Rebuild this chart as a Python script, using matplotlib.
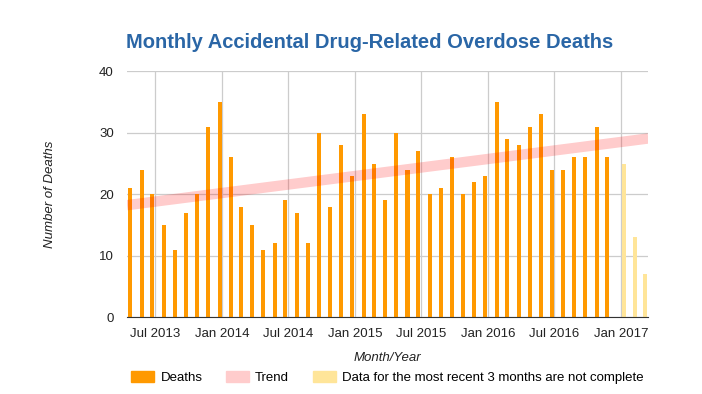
import datetime as dt
import matplotlib
matplotlib.use('Agg')
import matplotlib.pyplot as plt
import matplotlib.dates as mdates
from matplotlib.patches import Patch
import numpy as np

plt.rcParams['font.family'] = ['Liberation Sans', 'DejaVu Sans']

# monthly deaths, May 2013 .. Dec 2016
start_year, start_month = 2013, 5
deaths = [21, 24, 20, 15, 11, 17, 20, 31,
          35, 26, 18, 15, 11, 12, 19, 17, 12, 30, 18, 28,
          23, 33, 25, 19, 30, 24, 27, 20, 21, 26, 20, 22,
          23, 35, 29, 28, 31, 33, 24, 24, 26, 26, 31, 26]
# incomplete months, Jan 2017 .. Mar 2017
incomplete = [25, 13, 7]

tick_labels = ['Jul 2013', 'Jan 2014', 'Jul 2014', 'Jan 2015',
               'Jul 2015', 'Jan 2016', 'Jul 2016', 'Jan 2017']
tick_dates = [dt.datetime.strptime(t, '%b %Y') for t in tick_labels]


def month_dates(y, m, n):
    out = []
    for _ in range(n):
        out.append(dt.datetime(y, m, 1))
        m += 1
        if m > 12:
            m, y = 1, y + 1
    return out


d_dates = month_dates(start_year, start_month, len(deaths))
i_dates = month_dates(2017, 1, len(incomplete))

fig = plt.figure(figsize=(7.02, 3.94), dpi=100)
ax = fig.add_axes([0.1809, 0.1947, 0.7426, 0.6243])

orange = '#ff9900'
pink = '#ffcccc'
yellow = '#ffe599'

off = dt.timedelta(days=7)
ax.bar([d - off for d in d_dates], deaths, width=11, color=orange, zorder=2)
ax.bar([d + off for d in i_dates], incomplete, width=11, color=yellow, zorder=2)

# linear trend on the complete series
xn = mdates.date2num(d_dates)
slope, icpt = np.polyfit(xn, deaths, 1)
xlo = mdates.date2num(dt.datetime(2013, 4, 15))
xhi = mdates.date2num(dt.datetime(2017, 3, 16))
ax.plot([xlo, xhi], [icpt + slope * xlo, icpt + slope * xhi],
        color='#ff0000', alpha=0.2, linewidth=7.5, solid_capstyle='butt', zorder=3)

ax.set_xlim(xlo, xhi)
ax.set_ylim(0, 40)
ax.set_yticks([0, 10, 20, 30, 40])
ax.set_xticks(mdates.date2num(tick_dates))
ax.set_xticklabels(tick_labels)
ax.tick_params(axis='both', length=0, labelsize=9.5, colors='#222222')
ax.tick_params(axis='y', pad=9.5)
ax.tick_params(axis='x', pad=8)
ax.grid(True, color='#cccccc', linewidth=0.9, zorder=0)
for s in ['top', 'right', 'left']:
    ax.spines[s].set_visible(False)
ax.spines['bottom'].set_color('#333333')
ax.spines['bottom'].set_zorder(4)

ax.set_ylabel('Number of Deaths', fontstyle='italic', fontsize=9.5, color='#222222', labelpad=31)
ax.set_xlabel('Month/Year', fontstyle='italic', fontsize=9.5, color='#222222', labelpad=8)

fig.text(0.527, 0.893, 'Monthly Accidental Drug-Related Overdose Deaths',
         ha='center', va='center', fontsize=14.5, fontweight='bold', color='#2a66a6')

handles = [Patch(color=orange, label='Deaths'),
           Patch(color=pink, label='Trend'),
           Patch(color=yellow, label='Data for the most recent 3 months are not complete')]
fig.legend(handles=handles, loc='center', bbox_to_anchor=(0.552, 0.042), ncol=3,
           frameon=False, fontsize=9.5, handlelength=1.75, handleheight=0.85,
           columnspacing=1.8, handletextpad=0.45)

fig.savefig('out.png', dpi=100)
